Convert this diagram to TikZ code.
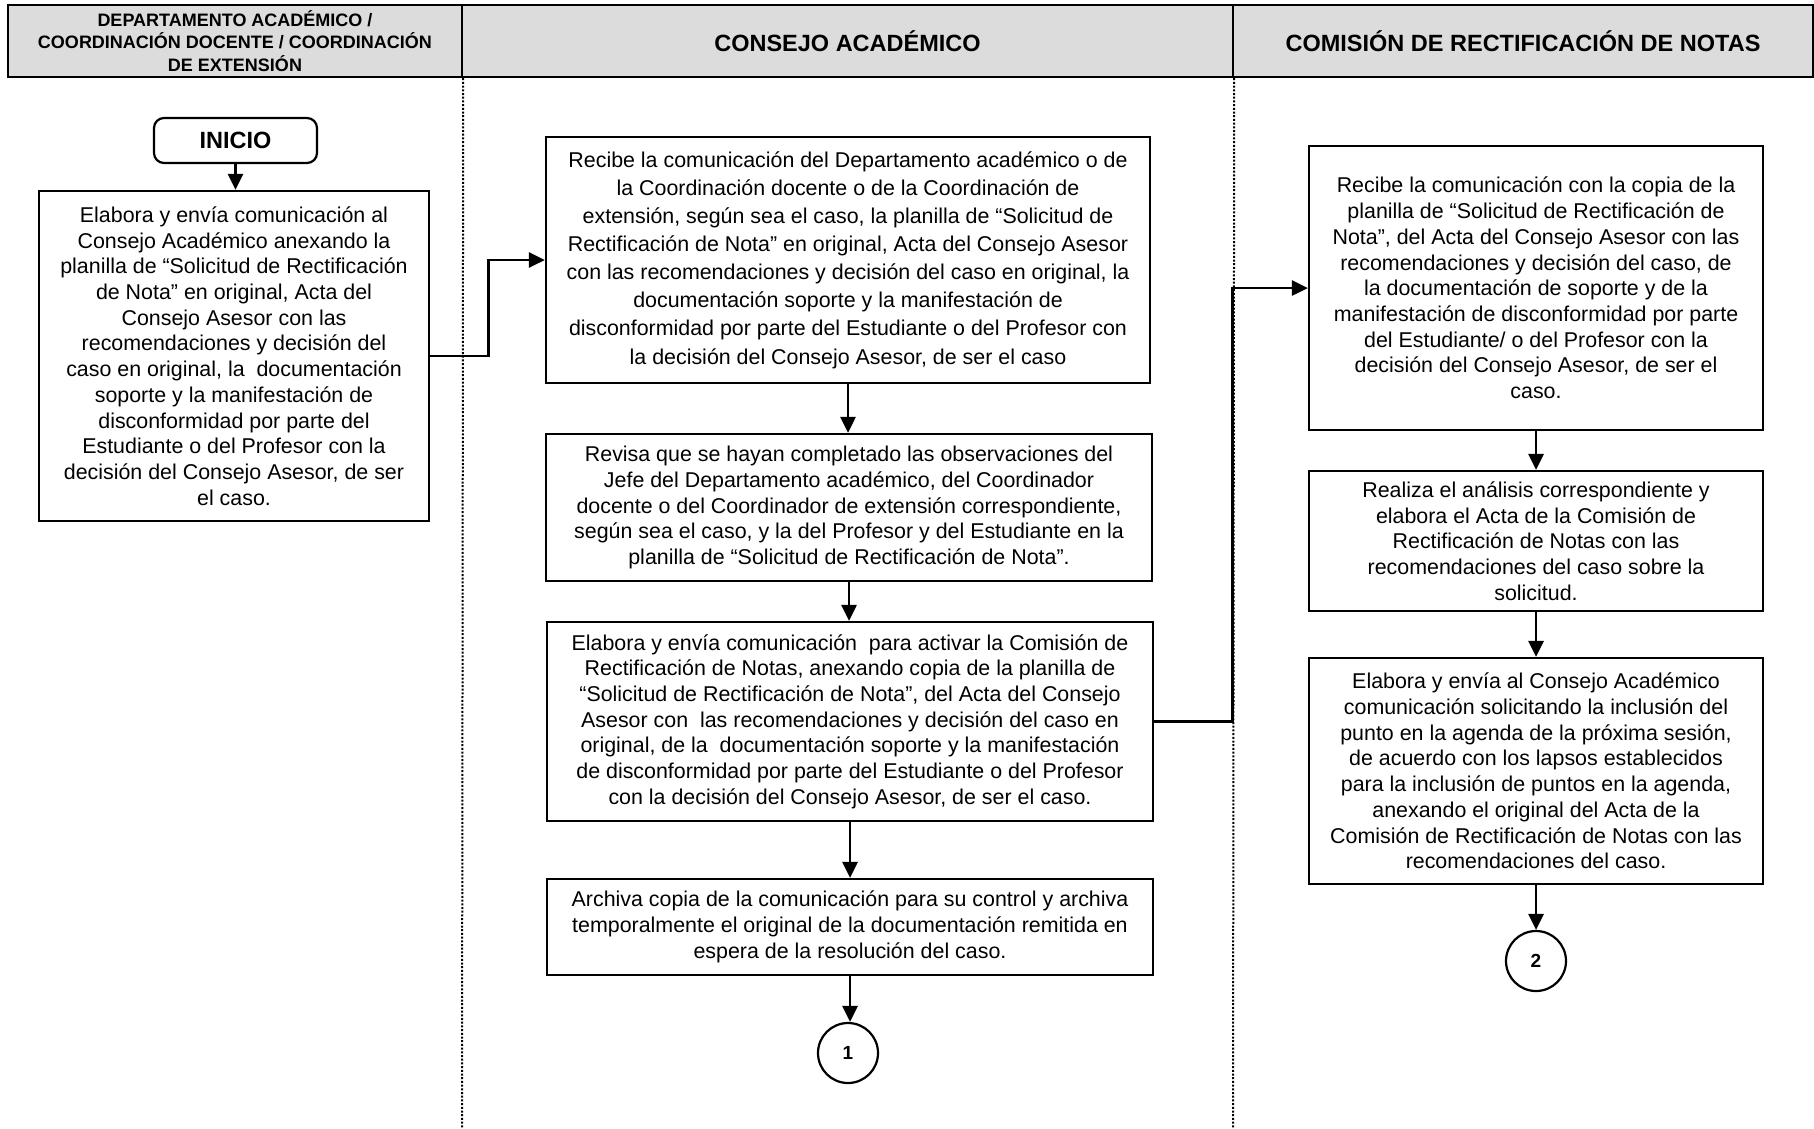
\documentclass[tikz,border=0pt]{standalone}
\usepackage{fontspec}
\setmainfont{Liberation Sans}
\usetikzlibrary{arrows.meta}

\definecolor{hdrgray}{RGB}{220,220,220}
\newcommand\bodyfont{\fontsize{21.4}{25.7}\selectfont}
\newcommand\bodyfontwide{\fontsize{21.4}{28.1}\selectfont}
\newcommand\hdrsmall{\fontsize{18}{22.5}\selectfont\bfseries}
\newcommand\hdrbig{\fontsize{23.5}{28}\selectfont\bfseries}

\begin{document}
\begin{tikzpicture}[x=1pt,y=-1pt,
  hdr/.style={draw=black, line width=2.4pt, fill=hdrgray, inner sep=0pt,
              align=center, minimum height=72pt},
  lane/.style={line width=2pt, dash pattern=on 2pt off 1.7pt},
  proc/.style={draw=black, line width=2.2pt, inner sep=0pt, align=center,
               font=\bodyfont},
  startbox/.style={draw=black, line width=2.2pt, rounded corners=10pt,
                   inner sep=0pt, minimum width=163pt, minimum height=45pt,
                   font=\hdrbig},
  connector/.style={circle, draw=black, line width=2.2pt, inner sep=0pt,
                    minimum size=60pt, font=\fontsize{19}{22}\selectfont\bfseries},
  flow/.style={line width=2.8pt, -{Triangle[width=15pt,length=16pt]}},
]
\useasboundingbox (0,0) rectangle (1814,1128);

% swimlane headers
\node[hdr, minimum width=454pt, font=\hdrsmall] (hL) at (235,41)
  {DEPARTAMENTO ACADÉMICO /\\COORDINACIÓN DOCENTE / COORDINACIÓN\\DE EXTENSIÓN};
\node[hdr, minimum width=771pt, font=\hdrbig] (hM) at (847.5,41) {CONSEJO ACADÉMICO};
\node[hdr, minimum width=580pt, font=\hdrbig] (hR) at (1523,41) {COMISIÓN DE RECTIFICACIÓN DE NOTAS};

% lane separators
\coordinate (sep1) at (462,1128);
\coordinate (sep2) at (1233,1128);
\draw[lane] (hL.south east) -- (sep1);
\draw[lane] (hM.south east) -- (sep2);

% first lane
\node[startbox] (inicio) at (235.5,140.5) {INICIO};
\node[proc, minimum width=390pt, minimum height=330pt] (A) at (234,356)
  {Elabora y envía comunicación al\\
   Consejo Académico anexando la\\
   planilla de “Solicitud de Rectificación\\
   de Nota” en original, Acta del\\
   Consejo Asesor con las\\
   recomendaciones y decisión del\\
   caso en original, la\ \ documentación\\
   soporte y la manifestación de\\
   disconformidad por parte del\\
   Estudiante o del Profesor con la\\
   decisión del Consejo Asesor, de ser\\
   el caso.};

% second lane
\node[proc, font=\bodyfontwide, minimum width=604pt, minimum height=246pt] (B) at (848,260)
  {Recibe la comunicación del Departamento académico o de\\
   la Coordinación docente o de la Coordinación de\\
   extensión, según sea el caso, la planilla de “Solicitud de\\
   Rectificación de Nota” en original, Acta del Consejo Asesor\\
   con las recomendaciones y decisión del caso en original, la\\
   documentación soporte y la manifestación de\\
   disconformidad por parte del Estudiante o del Profesor con\\
   la decisión del Consejo Asesor, de ser el caso};
\node[proc, minimum width=606pt, minimum height=147pt] (C) at (849,507.5)
  {Revisa que se hayan completado las observaciones del\\
   Jefe del Departamento académico, del Coordinador\\
   docente o del Coordinador de extensión correspondiente,\\
   según sea el caso, y la del Profesor y del Estudiante en la\\
   planilla de “Solicitud de Rectificación de Nota”.};
\node[proc, minimum width=606pt, minimum height=199pt] (D) at (850,721.5)
  {Elabora y envía comunicación\ \ para activar la Comisión de\\
   Rectificación de Notas, anexando copia de la planilla de\\
   “Solicitud de Rectificación de Nota”, del Acta del Consejo\\
   Asesor con\ \ las recomendaciones y decisión del caso en\\
   original, de la\ \ documentación soporte y la manifestación\\
   de disconformidad por parte del Estudiante o del Profesor\\
   con la decisión del Consejo Asesor, de ser el caso.};
\node[proc, minimum width=606pt, minimum height=96pt] (E) at (850,927)
  {Archiva copia de la comunicación para su control y archiva\\
   temporalmente el original de la documentación remitida en\\
   espera de la resolución del caso.};
\node[connector] (c1) at (848,1053) {1};

% third lane
\node[proc, minimum width=454pt, minimum height=284pt] (F) at (1536,288)
  {Recibe la comunicación con la copia de la\\
   planilla de “Solicitud de Rectificación de\\
   Nota”, del Acta del Consejo Asesor con las\\
   recomendaciones y decisión del caso, de\\
   la documentación de soporte y de la\\
   manifestación de disconformidad por parte\\
   del Estudiante/ o del Profesor con la\\
   decisión del Consejo Asesor, de ser el\\
   caso.};
\node[proc, minimum width=454pt, minimum height=140pt] (G) at (1536,541)
  {Realiza el análisis correspondiente y\\
   elabora el Acta de la Comisión de\\
   Rectificación de Notas con las\\
   recomendaciones del caso sobre la\\
   solicitud.};
\node[proc, minimum width=454pt, minimum height=226pt] (H) at (1536,771)
  {Elabora y envía al Consejo Académico\\
   comunicación solicitando la inclusión del\\
   punto en la agenda de la próxima sesión,\\
   de acuerdo con los lapsos establecidos\\
   para la inclusión de puntos en la agenda,\\
   anexando el original del Acta de la\\
   Comisión de Rectificación de Notas con las\\
   recomendaciones del caso.};
\node[connector] (c2) at (1536,961) {2};

% flow connectors
\draw[flow] (inicio.south) -- (inicio.south |- A.north);
\draw[flow] (A.east) -- ++(58,0) |- (B.west);
\draw[flow] (B.south) -- (B.south |- C.north);
\draw[flow] (C.south) -- (C.south |- D.north);
\draw[flow] (D.south) -- (D.south |- E.north);
\draw[flow] (E.south) -- (E.south |- c1.north);
\draw[flow] (D.east) -- ++(78,0) |- (F.west);
\draw[flow] (F.south) -- (F.south |- G.north);
\draw[flow] (G.south) -- (G.south |- H.north);
\draw[flow] (H.south) -- (H.south |- c2.north);
\end{tikzpicture}
\end{document}
